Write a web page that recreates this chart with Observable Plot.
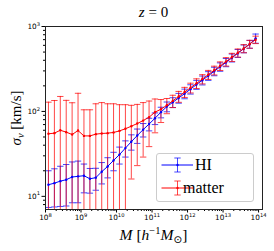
<!DOCTYPE html>
<html><head><meta charset="utf-8">
<script src="https://cdn.jsdelivr.net/npm/d3@7"></script>
<script src="https://cdn.jsdelivr.net/npm/@observablehq/plot@0.6"></script>
<style>html,body{margin:0;padding:0;background:#fff;} svg{display:block}</style>
</head><body><div id="chart"></div>
<script>
// halo mass bin centres [h^-1 Msun]
const mass = [1.21e8,1.78e8,2.61e8,3.83e8,5.62e8,8.25e8,
              1.21e9,1.78e9,2.61e9,3.83e9,5.62e9,8.25e9,
              1.21e10,1.78e10,2.61e10,3.83e10,5.62e10,8.25e10,
              1.21e11,1.78e11,2.61e11,3.83e11,5.62e11,8.25e11,
              1.21e12,1.78e12,2.61e12,3.83e12,5.62e12,8.25e12,
              1.21e13,1.78e13,2.61e13,3.83e13,5.62e13,8.25e13];
// HI velocity dispersion (mean, std) [km/s]
const hiMean = [13.7,14.3,15.1,15.7,16.9,17.2,17.5,16.1,16.6,19.5,22.5,26.5,31,37,44,52,61,71,83,98,114,128,144,162,183,207,233,263,297,335,378,428,484,548,620,725];
const hiStd  = [6.3,6.8,7.5,8.0,8.5,8.8,6.5,5.2,4.8,5.5,6,6.5,7,8,9,10,11,12,13,14,15,17,19,21,23,25,28,31,34,38,42,46,52,58,66,90];
// matter velocity dispersion (mean, std) [km/s]
const matterMean = [54.5,55.5,60,57,53.5,59.5,51.5,51.5,54,55,55.5,56.5,59,62.5,67,72,78,85.5,98,106,118,133,150,169,190,214,241,271,305,343,386,435,490,551,621,699];
const matterStd  = [74,79,90,78,73,104,53,53,69,72,67.5,66.5,61,57.5,51,49,49,47,42,32,24,22,22,23,25,28,30,33,36,40,44,48,54,60,66,70];

const seriesNames = ["HI","matter"];
const seriesColors = ["#0000ff","#ff0000"];
const xTicks = [1e8,1e9,1e10,1e11,1e12,1e13,1e14];
const yTicks = [1e1,1e2,1e3];
const xDomain = [1e8, 1.29e14];
const yDomain = [7, 1000];

const xMinor = [];
for (let e = 8; e <= 13; e++) for (let k = 2; k <= 9; k++) xMinor.push(k * 10 ** e);
const yMinor = [8, 9];
for (let e = 1; e <= 2; e++) for (let k = 2; k <= 9; k++) yMinor.push(k * 10 ** e);

function rows(name, means, stds) {
  return mass.map((m, i) => {
    const lo = means[i] - stds[i];
    return {series: name, m, v: means[i], hi: means[i] + stds[i],
            lo: lo > yDomain[0] ? lo : yDomain[0], loShown: lo > yDomain[0]};
  });
}
const hiRows = rows("HI", hiMean, hiStd);
const matterRows = rows("matter", matterMean, matterStd);

const cap = {draw(ctx) { ctx.moveTo(-3.2, 0); ctx.lineTo(3.2, 0); }};
const barOp = 0.72;

function errMarks(data, color) {
  return [
    Plot.ruleX(data, {x: "m", y1: "lo", y2: "hi", stroke: color, strokeOpacity: barOp, strokeWidth: 1}),
    Plot.dot(data, {x: "m", y: "hi", symbol: cap, r: 3, fill: "none", stroke: color, strokeOpacity: barOp, strokeWidth: 1}),
    Plot.dot(data.filter(d => d.loShown), {x: "m", y: "lo", symbol: cap, r: 3, fill: "none", stroke: color, strokeOpacity: barOp, strokeWidth: 1})
  ];
}
function lineMarks(data, color) {
  return [
    Plot.line(data, {x: "m", y: "v", stroke: color, strokeWidth: 1}),
    Plot.dot(data, {x: "m", y: "v", r: 1.2, fill: color, stroke: "none"})
  ];
}
const fmt = d => "10^" + Math.round(Math.log10(d));

const plot = Plot.plot({
  width: 274, height: 251,
  marginLeft: 45, marginRight: 12, marginTop: 26, marginBottom: 42,
  style: {fontFamily: "DejaVu Sans", fontSize: "7.3px", background: "#fff", color: "#000"},
  x: {type: "log", domain: xDomain, label: null},
  y: {type: "log", domain: yDomain, label: null},
  marks: [
    ...errMarks(hiRows, seriesColors[0]),
    ...errMarks(matterRows, seriesColors[1]),
    ...lineMarks(hiRows, seriesColors[0]),
    ...lineMarks(matterRows, seriesColors[1]),
    Plot.axisX({ticks: xMinor, tickSize: 2, tickFormat: () => "", label: null}),
    Plot.axisY({ticks: yMinor, tickSize: 2, tickFormat: () => "", label: null}),
    Plot.axisX({ticks: xTicks, tickSize: 3.5, tickPadding: 2, tickFormat: fmt, label: null}),
    Plot.axisY({ticks: yTicks, tickSize: 3.5, tickPadding: 2, tickFormat: fmt, label: null}),
    Plot.frame({stroke: "#222", strokeWidth: 1})
  ]
});
document.getElementById("chart").appendChild(plot);

const NS = "http://www.w3.org/2000/svg";
plot.querySelectorAll("text").forEach(t => {
  const mm = /^10\^(\d+)$/.exec(t.textContent);
  if (mm) {
    t.textContent = "10";
    const s = document.createElementNS(NS, "tspan");
    s.setAttribute("dy", "-3.2");
    s.setAttribute("font-size", "5.2");
    s.textContent = mm[1];
    t.appendChild(s);
  }
});

const svg = d3.select(plot);
const serif = "Liberation Serif, DejaVu Serif, serif";
// title
const title = svg.append("text").attr("x", 153.5).attr("y", 17).attr("text-anchor", "middle")
  .attr("font-family", serif).attr("font-size", 15).attr("fill", "#000");
title.append("tspan").attr("font-style", "italic").text("z");
title.append("tspan").text(" = 0");
// y label
const yl = svg.append("text").attr("transform", "translate(21,118) rotate(-90)").attr("text-anchor", "middle")
  .attr("font-family", serif).attr("font-size", 15).attr("fill", "#000");
yl.append("tspan").attr("font-style", "italic").text("σ");
yl.append("tspan").attr("font-style", "italic").attr("font-size", 10.5).attr("dy", 3).text("v");
yl.append("tspan").attr("dy", -3).text(" [km/s]");
// x label
const xl = svg.append("text").attr("x", 153.5).attr("y", 240).attr("text-anchor", "middle")
  .attr("font-family", serif).attr("font-size", 15.5).attr("fill", "#000");
xl.append("tspan").attr("font-style", "italic").text("M");
xl.append("tspan").text(" [");
xl.append("tspan").attr("font-style", "italic").text("h");
xl.append("tspan").attr("font-size", 10.5).attr("dy", -6).text("−1");
xl.append("tspan").attr("font-style", "italic").attr("dy", 6).text("M");
xl.append("tspan").attr("font-size", 10.5).attr("dy", 3).attr("font-family", "DejaVu Sans").text("⊙");
xl.append("tspan").attr("dy", -3).text("]");

// legend
const lg = svg.append("g");
lg.append("rect").attr("x", 156.5).attr("y", 153.5).attr("width", 97).attr("height", 48).attr("rx", 2.5)
  .attr("fill", "#fff").attr("fill-opacity", 0.8).attr("stroke", "#cccccc").attr("stroke-width", 1);
seriesNames.forEach((name, i) => {
  const cy = 165 + i * 23, c = seriesColors[i];
  lg.append("line").attr("x1", 161.5).attr("x2", 193).attr("y1", cy).attr("y2", cy).attr("stroke", c).attr("stroke-width", 1);
  lg.append("line").attr("x1", 177.5).attr("x2", 177.5).attr("y1", cy - 7).attr("y2", cy + 7).attr("stroke", c).attr("stroke-opacity", barOp);
  [cy - 7, cy + 7].forEach(yy => lg.append("line").attr("x1", 174.3).attr("x2", 180.7).attr("y1", yy).attr("y2", yy).attr("stroke", c).attr("stroke-opacity", barOp));
  lg.append("circle").attr("cx", 177.5).attr("cy", cy).attr("r", 1.2).attr("fill", c);
  lg.append("text").attr("x", 203.5).attr("y", cy + 5).attr("font-family", serif).attr("font-size", 16).attr("fill", "#000").text(name);
});
</script>
</body></html>
